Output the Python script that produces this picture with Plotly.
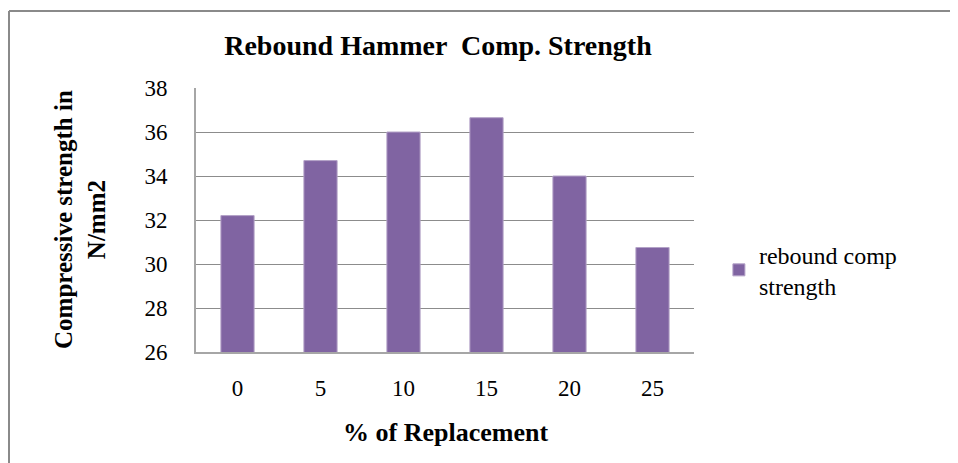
import plotly.graph_objects as go

replacement = ["0", "5", "10", "15", "20", "25"]
rebound_strength = [32.2, 34.7, 36.0, 36.65, 34.0, 30.75]
y_ticks = [26, 28, 30, 32, 34, 36, 38]

FONT = "Liberation Serif, Times New Roman, serif"

# plot area in page pixels: x 196-694, y 88-352 (page has an 8px body margin)
fig = go.Figure()
fig.add_trace(
    go.Bar(
        x=replacement,
        y=rebound_strength,
        name="rebound comp<br>strength",
        marker=dict(color="#8064A2", line=dict(color="#B3A2C7", width=1)),
        width=0.4,
    )
)

fig.update_layout(
    width=950,
    height=455,
    margin=dict(l=188, r=264, t=80, b=111),
    paper_bgcolor="white",
    plot_bgcolor="white",
    font=dict(family=FONT, size=23, color="black"),
    title=dict(
        text="<b>Rebound Hammer  Comp. Strength</b>",
        x=(438 - 8) / 950,
        xanchor="center",
        y=1 - (45 - 8) / 455,
        yanchor="middle",
        font=dict(family=FONT, size=28, color="black"),
    ),
    showlegend=True,
    legend=dict(
        x=1.05,
        y=0.31,
        xanchor="left",
        yanchor="middle",
        font=dict(family=FONT, size=24, color="black"),
        itemwidth=30,
        bgcolor="rgba(0,0,0,0)",
    ),
    bargap=0.6,
)

fig.update_xaxes(
    type="category",
    showline=True,
    linecolor="#A6A6A6",
    linewidth=2,
    showgrid=False,
    ticks="",
    ticklabelstandoff=14,
    tickfont=dict(family=FONT, size=23),
)
fig.update_yaxes(
    range=[26, 38],
    tickvals=y_ticks,
    showline=True,
    linecolor="#A6A6A6",
    linewidth=2,
    showgrid=True,
    gridcolor="#8C8C8C",
    gridwidth=1,
    zeroline=False,
    ticks="",
    ticklabelstandoff=22,
    tickfont=dict(family=FONT, size=23),
)

fig.add_annotation(
    text="<b>Compressive strength in<br>N/mm2</b>",
    xref="paper",
    yref="paper",
    x=(80 - 196) / 498,
    y=0.5,
    xanchor="center",
    yanchor="middle",
    textangle=-90,
    showarrow=False,
    font=dict(family=FONT, size=25, color="black"),
)
fig.add_annotation(
    text="<b>% of Replacement</b>",
    xref="paper",
    yref="paper",
    x=(445 - 196) / 498,
    y=(352 - 432) / 264,
    xanchor="center",
    yanchor="middle",
    showarrow=False,
    font=dict(family=FONT, size=26, color="black"),
)

# chart area border (top and left edges visible in the reference)
fig.add_shape(
    type="line", xref="paper", yref="paper",
    x0=(9 - 196) / 498, x1=(960 - 196) / 498,
    y0=(352 - 11) / 264, y1=(352 - 11) / 264,
    line=dict(color="#8A8A8A", width=2),
)
fig.add_shape(
    type="line", xref="paper", yref="paper",
    x0=(9 - 196) / 498, x1=(9 - 196) / 498,
    y0=(352 - 11) / 264, y1=(352 - 465) / 264,
    line=dict(color="#8A8A8A", width=2),
)

fig.write_html("out.html")
